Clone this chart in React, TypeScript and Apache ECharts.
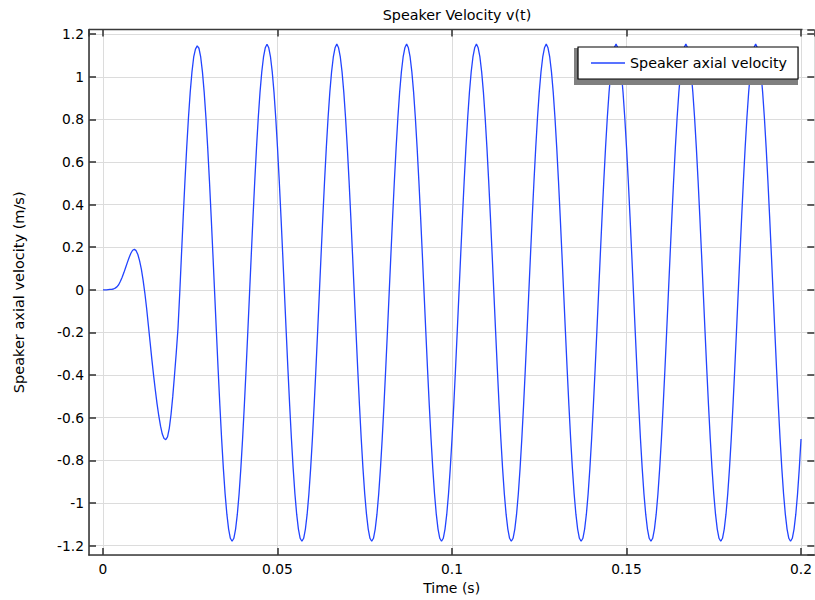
import React, { useEffect, useRef } from "react";
import * as echarts from "echarts";

// Sampling step of the velocity trace (s)
const sampleStep = 0.0005;

// Start-up transient, t = 0 … 0.0265 s
const velocityStart = [
  0, 0, 0, 0.001, 0.002, 0.002, 0.004, 0.008, 0.014, 0.024,
  0.040, 0.059, 0.081, 0.105, 0.129, 0.152, 0.172, 0.186, 0.190, 0.184,
  0.166, 0.136, 0.097, 0.046, -0.015, -0.085, -0.165, -0.245, -0.325, -0.400,
  -0.470, -0.535, -0.592, -0.640, -0.677, -0.698, -0.703, -0.690, -0.650, -0.585,
  -0.500, -0.400, -0.295, -0.180, -0.015, 0.167, 0.345, 0.514, 0.670, 0.809,
  0.928, 1.023, 1.093, 1.130,
];

// Periodic response, t = 0.027 … 0.2 s (one row per 0.02 s period)
const velocityPeriodic = [
  1.145, 1.134, 1.093, 1.023, 0.928, 0.809, 0.670, 0.514, 0.345, 0.167, -0.015, -0.197, -0.375, -0.544, -0.700, -0.839, -0.958, -1.053, -1.123, -1.166, -1.180, -1.166, -1.123, -1.053, -0.958, -0.839, -0.700, -0.544, -0.375, -0.197, -0.015, 0.167, 0.345, 0.514, 0.670, 0.809, 0.928, 1.023, 1.093, 1.136,
  1.153, 1.136, 1.093, 1.023, 0.928, 0.809, 0.670, 0.514, 0.345, 0.167, -0.015, -0.197, -0.375, -0.544, -0.700, -0.839, -0.958, -1.053, -1.123, -1.166, -1.180, -1.166, -1.123, -1.053, -0.958, -0.839, -0.700, -0.544, -0.375, -0.197, -0.015, 0.167, 0.345, 0.514, 0.670, 0.809, 0.928, 1.023, 1.093, 1.136,
  1.154, 1.136, 1.093, 1.023, 0.928, 0.809, 0.670, 0.514, 0.345, 0.167, -0.015, -0.197, -0.375, -0.544, -0.700, -0.839, -0.958, -1.053, -1.123, -1.166, -1.180, -1.166, -1.123, -1.053, -0.958, -0.839, -0.700, -0.544, -0.375, -0.197, -0.015, 0.167, 0.345, 0.514, 0.670, 0.809, 0.928, 1.023, 1.093, 1.136,
  1.154, 1.136, 1.093, 1.023, 0.928, 0.809, 0.670, 0.514, 0.345, 0.167, -0.015, -0.197, -0.375, -0.544, -0.700, -0.839, -0.958, -1.053, -1.123, -1.166, -1.180, -1.166, -1.123, -1.053, -0.958, -0.839, -0.700, -0.544, -0.375, -0.197, -0.015, 0.167, 0.345, 0.514, 0.670, 0.809, 0.928, 1.023, 1.093, 1.136,
  1.154, 1.136, 1.093, 1.023, 0.928, 0.809, 0.670, 0.514, 0.345, 0.167, -0.015, -0.197, -0.375, -0.544, -0.700, -0.839, -0.958, -1.053, -1.123, -1.166, -1.180, -1.166, -1.123, -1.053, -0.958, -0.839, -0.700, -0.544, -0.375, -0.197, -0.015, 0.167, 0.345, 0.514, 0.670, 0.809, 0.928, 1.023, 1.093, 1.136,
  1.154, 1.136, 1.093, 1.023, 0.928, 0.809, 0.670, 0.514, 0.345, 0.167, -0.015, -0.197, -0.375, -0.544, -0.700, -0.839, -0.958, -1.053, -1.123, -1.166, -1.180, -1.166, -1.123, -1.053, -0.958, -0.839, -0.700, -0.544, -0.375, -0.197, -0.015, 0.167, 0.345, 0.514, 0.670, 0.809, 0.928, 1.023, 1.093, 1.136,
  1.154, 1.136, 1.093, 1.023, 0.928, 0.809, 0.670, 0.514, 0.345, 0.167, -0.015, -0.197, -0.375, -0.544, -0.700, -0.839, -0.958, -1.053, -1.123, -1.166, -1.180, -1.166, -1.123, -1.053, -0.958, -0.839, -0.700, -0.544, -0.375, -0.197, -0.015, 0.167, 0.345, 0.514, 0.670, 0.809, 0.928, 1.023, 1.093, 1.136,
  1.154, 1.136, 1.093, 1.023, 0.928, 0.809, 0.670, 0.514, 0.345, 0.167, -0.015, -0.197, -0.375, -0.544, -0.700, -0.839, -0.958, -1.053, -1.123, -1.166, -1.180, -1.166, -1.123, -1.053, -0.958, -0.839, -0.700, -0.544, -0.375, -0.197, -0.015, 0.167, 0.345, 0.514, 0.670, 0.809, 0.928, 1.023, 1.093, 1.136,
  1.154, 1.136, 1.093, 1.023, 0.928, 0.809, 0.670, 0.514, 0.345, 0.167, -0.015, -0.197, -0.375, -0.544, -0.700, -0.839, -0.958, -1.053, -1.123, -1.166, -1.180, -1.166, -1.123, -1.053, -0.958, -0.839, -0.700,
];

const titleText = "Speaker Velocity v(t)";
const seriesName = "Speaker axial velocity";
const xAxisName = "Time (s)";
const yAxisName = "Speaker axial velocity (m/s)";

const FONT = "'DejaVu Sans', sans-serif";

export default function App() {
  const ref = useRef<HTMLDivElement>(null);

  useEffect(() => {
    if (!ref.current) return;
    const chart = echarts.init(ref.current, undefined, { renderer: "svg" });
    const velocity = velocityStart.concat(velocityPeriodic).slice(0, 401);
    const data = velocity.map((v, i) => [+(i * sampleStep).toFixed(4), v]);

    const axisLineStyle = { color: "#3a3a3a", width: 1.6 };
    const tickStyle = { color: "#3a3a3a", width: 1.6 };
    const xMin = -0.004;
    const xMax = 0.2038;
    const yMin = -1.245;
    const yMax = 1.222;

    chart.setOption({
      animation: false,
      backgroundColor: "#ffffff",
      title: {
        text: titleText,
        left: 452,
        textAlign: "center",
        top: 3,
        textStyle: { fontFamily: FONT, fontSize: 14.3, fontWeight: "normal", color: "#000" },
      },
      legend: {
        data: [seriesName],
        left: 578,
        top: 47,
        orient: "vertical",
        icon: "rect",
        backgroundColor: "#ffffff",
        borderColor: "#000000",
        borderWidth: 1.2,
        borderRadius: 0,
        padding: [9, 11, 9, 13],
        itemWidth: 34,
        itemHeight: 1.3,
        itemGap: 8,
        textStyle: { fontFamily: FONT, fontSize: 14.3, color: "#000", padding: [0, 0, 0, 0] },
        z: 10,
      },
      graphic: [
        {
          type: "rect",
          z: 5,
          shape: { x: 574, y: 48, width: 224, height: 37 },
          style: { fill: "#808080" },
        },
        {
          type: "line",
          z: 6,
          shape: { x1: 89, y1: 29.5, x2: 802.5, y2: 29.5 },
          style: { stroke: "#3a3a3a", lineWidth: 1.6 },
        },
      ],
      grid: { left: 89, right: 0, top: 29.5, bottom: 42, containLabel: false },
      xAxis: [
        {
          type: "value",
          min: xMin,
          max: xMax,
          splitNumber: 5,
          minInterval: 0.05,
          maxInterval: 0.05,
          position: "bottom",
          name: xAxisName,
          nameLocation: "middle",
          nameGap: 22,
          nameTextStyle: { fontFamily: FONT, fontSize: 14, color: "#000" },
          axisLine: { show: true, onZero: false, lineStyle: axisLineStyle },
          axisTick: { show: true, inside: true, length: 7, lineStyle: tickStyle },
          axisLabel: {
            show: true,
            margin: 7,
            fontFamily: FONT,
            fontSize: 13.8,
            color: "#000",
            showMinLabel: false,
            showMaxLabel: false,
          },
          splitLine: { show: true, lineStyle: { color: "#dcdcdc", width: 1 } },
        },
        {
          type: "value",
          min: xMin,
          max: xMax,
          splitNumber: 5,
          minInterval: 0.05,
          maxInterval: 0.05,
          position: "top",
          axisLine: { show: false, onZero: false },
          axisTick: { show: true, inside: true, length: 7, lineStyle: tickStyle },
          axisLabel: { show: false },
          splitLine: { show: false },
        },
      ],
      yAxis: [
        {
          type: "value",
          min: yMin,
          max: yMax,
          splitNumber: 12,
          minInterval: 0.2,
          maxInterval: 0.2,
          position: "left",
          name: yAxisName,
          nameLocation: "middle",
          nameGap: 63,
          nameTextStyle: { fontFamily: FONT, fontSize: 14.5, color: "#000" },
          axisLine: { show: true, onZero: false, lineStyle: axisLineStyle },
          axisTick: { show: true, inside: true, length: 7, lineStyle: tickStyle },
          axisLabel: {
            show: true,
            margin: 5,
            fontFamily: FONT,
            fontSize: 13.8,
            color: "#000",
            showMinLabel: false,
            showMaxLabel: false,
          },
          splitLine: { show: true, lineStyle: { color: "#dcdcdc", width: 1 } },
        },
        {
          type: "value",
          min: yMin,
          max: yMax,
          splitNumber: 12,
          minInterval: 0.2,
          maxInterval: 0.2,
          position: "right",
          axisLine: { show: false, onZero: false },
          axisTick: { show: true, inside: true, length: 7, lineStyle: tickStyle },
          axisLabel: { show: false },
          splitLine: { show: false },
        },
      ],
      series: [
        {
          name: seriesName,
          type: "line",
          data,
          xAxisIndex: 0,
          yAxisIndex: 0,
          symbol: "none",
          showSymbol: false,
          smooth: false,
          lineStyle: { color: "#2244ff", width: 1.3 },
          itemStyle: { color: "#2244ff" },
          clip: true,
          z: 3,
        },
      ],
    });

    return () => chart.dispose();
  }, []);

  return (
    <div
      ref={ref}
      style={{ position: "fixed", left: 0, top: 0, width: 815, height: 600, background: "#fff" }}
    />
  );
}
